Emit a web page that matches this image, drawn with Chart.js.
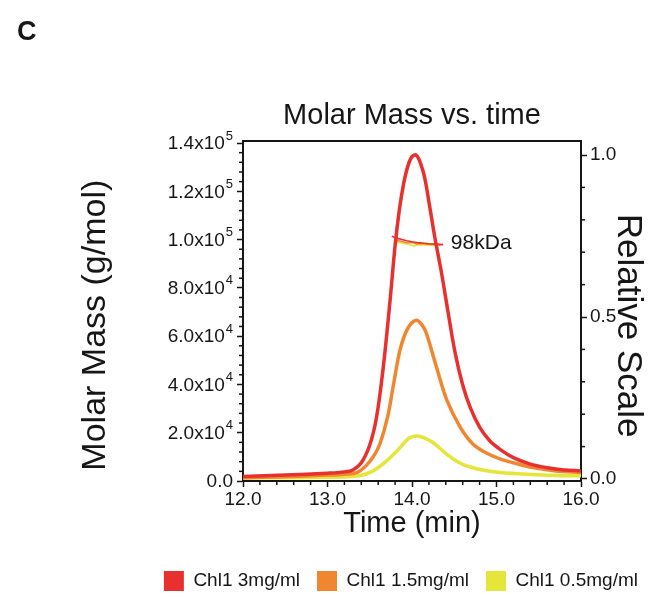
<!DOCTYPE html>
<html>
<head>
<meta charset="utf-8">
<script src="https://cdn.jsdelivr.net/npm/chart.js@4.4.1/dist/chart.umd.min.js"></script>
<style>
  html, body { margin: 0; padding: 0; background: #fff; }
</style>
</head>
<body>
<canvas id="chart" width="663" height="597"></canvas>
<script>
// legend names and colours
const seriesNames = ['Chl1 3mg/ml', 'Chl1 1.5mg/ml', 'Chl1 0.5mg/ml'];
const seriesColors = ['#e8302e', '#f0862f', '#e6e53a'];

// relative scale (right axis) traces, time in min
const redTime = [12.0, 12.5, 13.0, 13.2, 13.3, 13.4, 13.5, 13.58, 13.66, 13.74, 13.8, 13.85, 13.9, 13.95, 14.0, 14.05, 14.1, 14.15, 14.21, 14.27, 14.35, 14.43, 14.51, 14.6, 14.69, 14.8, 14.92, 15.05, 15.2, 15.4, 15.6, 15.8, 16.0];
const redScale = [0.008, 0.012, 0.018, 0.022, 0.028, 0.05, 0.105, 0.19, 0.345, 0.55, 0.72, 0.83, 0.91, 0.965, 0.995, 1.0, 0.975, 0.93, 0.84, 0.746, 0.635, 0.51, 0.39, 0.29, 0.22, 0.16, 0.118, 0.09, 0.066, 0.046, 0.035, 0.028, 0.025];

const orangeTime = [12.0, 12.5, 13.0, 13.2, 13.35, 13.46, 13.55, 13.62, 13.71, 13.78, 13.86, 13.95, 14.05, 14.12, 14.17, 14.29, 14.41, 14.57, 14.72, 14.88, 15.04, 15.2, 15.43, 15.7, 16.0];
const orangeScale = [0.004, 0.007, 0.012, 0.015, 0.02, 0.042, 0.072, 0.108, 0.19, 0.29, 0.40, 0.465, 0.49, 0.475, 0.45, 0.345, 0.245, 0.16, 0.108, 0.08, 0.062, 0.05, 0.035, 0.025, 0.02];

const yellowTime = [12.0, 12.5, 13.0, 13.38, 13.54, 13.7, 13.86, 13.96, 14.06, 14.15, 14.25, 14.41, 14.53, 14.65, 14.85, 15.04, 15.4, 15.7, 16.0];
const yellowScale = [0.003, 0.004, 0.005, 0.01, 0.025, 0.056, 0.097, 0.125, 0.133, 0.126, 0.112, 0.077, 0.055, 0.04, 0.027, 0.02, 0.014, 0.011, 0.01];

// molar mass (left axis) traces across the peak
const redMwTime = [13.76, 13.82, 13.88, 13.94, 14.0, 14.06, 14.12, 14.2, 14.28, 14.37];
const redMw = [101400, 100600, 100000, 99500, 99100, 98800, 98600, 98300, 98100, 97900];
const orangeMwTime = [13.8, 13.88, 13.95, 14.0, 14.05, 14.12, 14.2, 14.3, 14.34];
const orangeMw = [99800, 99200, 98600, 98900, 98200, 98400, 98100, 97900, 97800];
const yellowMwTime = [13.82, 13.9, 13.96, 14.02, 14.06, 14.12, 14.2, 14.3];
const yellowMw = [99000, 98500, 98000, 97300, 97800, 97900, 97700, 97600];

// ticks
const xTickValues = [12, 13, 14, 15, 16];
const xTickLabels = ['12.0', '13.0', '14.0', '15.0', '16.0'];
const leftTickValues = [0, 20000, 40000, 60000, 80000, 100000, 120000, 140000];
const leftTickMantissa = ['0.0', '2.0x10', '4.0x10', '6.0x10', '8.0x10', '1.0x10', '1.2x10', '1.4x10'];
const leftTickExponent = ['', '4', '4', '4', '4', '5', '5', '5'];
const rightTickValues = [0, 0.5, 1.0];
const rightTickLabels = ['0.0', '0.5', '1.0'];

const kdaLabel = '98kDa';
const kdaLabelTime = 14.46;
const kdaLabelMw = 98300;

const FONT = "'Liberation Sans', Arial, Helvetica, sans-serif";
const INK = '#161616';

function pts(xs, ys) { return xs.map((x, i) => ({ x: x, y: ys[i] })); }

function minorList(min, max, step) {
  const out = [];
  for (let v = min; v <= max + step / 1000; v += step) out.push({ value: Math.round(v / step) * step });
  return out;
}
function majorIndex(v, majors) { return majors.findIndex(m => Math.abs(m - v) < 1e-6 * Math.max(1, Math.abs(m))); }
function isMajor(v, majors) { return majorIndex(v, majors) >= 0; }
function labelFor(v, majors, labels) {
  const i = majorIndex(v, majors);
  return i >= 0 ? labels[i] : '';
}

const frame = {
  id: 'frame',
  afterDraw(chart) {
    const ctx = chart.ctx, a = chart.chartArea;
    ctx.save();
    ctx.strokeStyle = INK;
    ctx.fillStyle = INK;
    // minor ticks
    ctx.lineWidth = 1.5;
    const x = chart.scales.x, yl = chart.scales.yL, yr = chart.scales.yR;
    x.ticks.forEach(t => {
      if (isMajor(t.value, xTickValues)) return;
      const px = x.getPixelForValue(t.value);
      ctx.beginPath(); ctx.moveTo(px, a.bottom); ctx.lineTo(px, a.bottom + 4); ctx.stroke();
    });
    yl.ticks.forEach(t => {
      if (isMajor(t.value, leftTickValues)) return;
      const py = yl.getPixelForValue(t.value);
      ctx.beginPath(); ctx.moveTo(a.left, py); ctx.lineTo(a.left - 4, py); ctx.stroke();
    });
    yr.ticks.forEach(t => {
      if (isMajor(t.value, rightTickValues)) return;
      const py = yr.getPixelForValue(t.value);
      ctx.beginPath(); ctx.moveTo(a.right, py); ctx.lineTo(a.right + 4, py); ctx.stroke();
    });
    // left tick labels with superscript exponents
    ctx.textAlign = 'right';
    ctx.textBaseline = 'middle';
    leftTickValues.forEach((v, i) => {
      const py = yl.getPixelForValue(v);
      const xr = a.left - 10;
      const exp = leftTickExponent[i];
      ctx.font = '13px ' + FONT;
      const ew = exp ? ctx.measureText(exp).width + 1 : 0;
      if (exp) ctx.fillText(exp, xr, py - 7);
      ctx.font = '19px ' + FONT;
      ctx.fillText(leftTickMantissa[i], xr - ew, py + 1);
    });
    // 98kDa note
    ctx.textAlign = 'left';
    ctx.font = '21px ' + FONT;
    ctx.fillText(kdaLabel, x.getPixelForValue(kdaLabelTime), yl.getPixelForValue(kdaLabelMw));
    // panel letter
    ctx.font = 'bold 27px ' + FONT;
    ctx.textBaseline = 'alphabetic';
    ctx.fillText('C', 17, 40);
    ctx.restore();
  }
};

const curve = (name, data, color) => ({
  label: name, data: data, yAxisID: 'yR',
  borderColor: color, backgroundColor: color, borderWidth: 3.5,
  pointRadius: 0, tension: 0.35, fill: false
});
const mw = (data, color) => ({
  label: '', data: data, yAxisID: 'yL',
  borderColor: color, backgroundColor: color, borderWidth: 1.6,
  pointRadius: 0, tension: 0, fill: false
});

const grid = majors => ({
  drawOnChartArea: false, tickLength: 6, tickWidth: 1.5,
  tickColor: c => isMajor(c.tick.value, majors) ? INK : 'rgba(0,0,0,0)'
});

new Chart(document.getElementById('chart'), {
  type: 'line',
  data: {
    datasets: [
      curve(seriesNames[0], pts(redTime, redScale), seriesColors[0]),
      curve(seriesNames[1], pts(orangeTime, orangeScale), seriesColors[1]),
      curve(seriesNames[2], pts(yellowTime, yellowScale), seriesColors[2]),
      mw(pts(redMwTime, redMw), seriesColors[0]),
      mw(pts(orangeMwTime, orangeMw), seriesColors[1]),
      mw(pts(yellowMwTime, yellowMw), seriesColors[2])
    ]
  },
  options: {
    responsive: false,
    animation: false,
    layout: { padding: { left: 0, right: 8, top: 0, bottom: -4 } },
    plugins: {
      tooltip: { enabled: false },
      title: { display: false },
      legend: {
        position: 'bottom', align: 'end',
        labels: {
          color: INK, boxWidth: 20, boxHeight: 20, padding: 17,
          font: { family: FONT, size: 19 },
          generateLabels(chart) {
            return chart.data.datasets.slice(0, 3).map((d, i) => ({
              text: d.label, fillStyle: d.borderColor, strokeStyle: d.borderColor,
              lineWidth: 0, datasetIndex: i, hidden: false, fontColor: INK
            }));
          }
        }
      }
    },
    scales: {
      x: {
        type: 'linear', min: 12, max: 16,
        afterBuildTicks: s => { s.ticks = minorList(12, 16, 0.2); },
        afterFit: s => { s.height = 73; },
        ticks: {
          autoSkip: false, maxRotation: 0, color: INK, padding: 1,
          font: { family: FONT, size: 19 },
          callback: v => labelFor(v, xTickValues, xTickLabels)
        },
        grid: grid(xTickValues),
        border: { color: INK, width: 2 },
        title: {
          display: true, text: 'Time (min)', color: INK,
          font: { family: FONT, size: 29, lineHeight: 1.2 },
          padding: { top: 0, bottom: 13 }
        }
      },
      // top axis: closes the box and carries the chart title over the plot
      x2: {
        type: 'linear', position: 'top', min: 12, max: 16,
        afterFit: s => { s.height = 141; },
        ticks: { display: false },
        grid: { drawOnChartArea: false, drawTicks: false },
        border: { color: INK, width: 2 },
        title: {
          display: true, text: 'Molar Mass vs. time', color: INK,
          font: { family: FONT, size: 29, lineHeight: 1.2 },
          padding: { top: 99, bottom: 0 }
        }
      },
      yL: {
        type: 'linear', position: 'left', min: 0, max: 140830,
        afterBuildTicks: s => { s.ticks = minorList(0, 140000, 4000); },
        afterFit: s => { s.width = 243; },
        ticks: { autoSkip: false, callback: () => '' },
        grid: grid(leftTickValues),
        border: { color: INK, width: 2 },
        title: {
          display: true, text: 'Molar Mass (g/mol)\u00a0\u00a0\u00a0', color: INK,
          font: { family: FONT, size: 34, lineHeight: 1.2 },
          padding: { top: 75, bottom: 0 }
        }
      },
      yR: {
        type: 'linear', position: 'right', min: -0.0062, max: 1.0433,
        afterBuildTicks: s => { s.ticks = minorList(0, 1.0, 0.1); },
        afterFit: s => { s.width = 74; },
        ticks: {
          autoSkip: false, color: INK, padding: 3,
          font: { family: FONT, size: 19 },
          callback: v => labelFor(v, rightTickValues, rightTickLabels)
        },
        grid: grid(rightTickValues),
        border: { color: INK, width: 2 },
        title: {
          display: true, text: '\u00a0\u00a0\u00a0Relative Scale', color: INK,
          font: { family: FONT, size: 35, lineHeight: 1.2 },
          padding: { top: 6, bottom: 0 }
        }
      }
    }
  },
  plugins: [frame]
});
</script>
</body>
</html>
